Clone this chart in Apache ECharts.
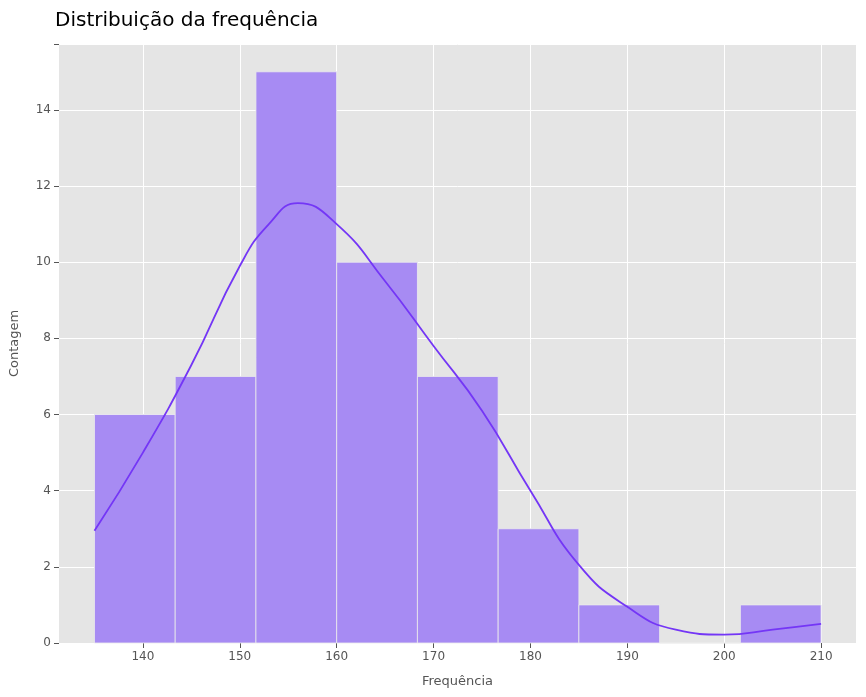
<!DOCTYPE html>
<html><head><meta charset="utf-8">
<script src="https://cdn.jsdelivr.net/npm/echarts@6/dist/echarts.min.js"></script>
<style>html,body{margin:0;background:#fff}#c{width:866px;height:697px}</style>
</head><body><div id="c"></div>
<script>
const binStart = 135, binEnd = 210;
const counts = [6, 7, 15, 10, 7, 3, 1, 0, 1];
const kdeX = [135,140,145,150,153,156,160,165,170,175,180,185,190,195,200,205,210];
const kdeY = [2.95,5.0,7.3,9.9,11.0,11.55,11.0,9.5,7.8,6.1,4.0,2.05,0.95,0.35,0.22,0.35,0.5];
const xTicks = [140,150,160,170,180,190,200,210];
const w = (binEnd - binStart) / counts.length;
const bars = counts.map((c, i) => [binStart + i * w, binStart + (i + 1) * w, c]);
const chart = echarts.init(document.getElementById('c'));
chart.setOption({
  backgroundColor: '#fff',
  animation: false,
  title: {text: 'Distribuição da frequência', left: 50, top: 6,
    textStyle: {fontSize: 20, fontWeight: 'normal', color: '#000', fontFamily: 'DejaVu Sans'}},
  grid: {left: 58, right: 10, top: 44, bottom: 54, show: true, backgroundColor: '#e5e5e5', borderWidth: 0},
  xAxis: {type: 'value', min: 131.34, max: 213.6, interval: 10,
    name: 'Frequência', nameLocation: 'middle', nameGap: 32,
    nameTextStyle: {color: '#555', fontSize: 13, fontFamily: 'DejaVu Sans'},
    axisLine: {show: false}, axisTick: {show: true, lineStyle: {color: '#555'}},
    axisLabel: {color: '#555', fontSize: 12, fontFamily: 'DejaVu Sans',
      customValues: xTicks},
    axisTick: {customValues: xTicks, lineStyle: {color: '#555'}},
    splitLine: {show: true, lineStyle: {color: '#fff', width: 1}}},
  yAxis: {type: 'value', min: 0, max: 15.73, interval: 2,
    name: 'Contagem', nameLocation: 'middle', nameGap: 38,
    nameTextStyle: {color: '#555', fontSize: 13, fontFamily: 'DejaVu Sans'},
    axisLine: {show: false}, axisTick: {show: true, lineStyle: {color: '#555'}},
    axisLabel: {color: '#555', fontSize: 12, fontFamily: 'DejaVu Sans',
      formatter: v => (v % 2 === 0 ? v : '')},
    splitLine: {show: true, lineStyle: {color: '#fff', width: 1}}},
  series: [
    {type: 'custom', data: bars, encode: {x: [0, 1], y: 2},
      renderItem: (params, api) => {
        const p0 = api.coord([api.value(0), api.value(2)]);
        const p1 = api.coord([api.value(1), 0]);
        return {type: 'rect', shape: {x: p0[0], y: p0[1], width: p1[0] - p0[0], height: p1[1] - p0[1]},
          style: {fill: '#a78bf3', stroke: '#ececec', lineWidth: 0.8}};
      }},
    {type: 'line', data: kdeX.map((x, i) => [x, kdeY[i]]), smooth: 0.5, showSymbol: false,
      lineStyle: {color: '#7436f6', width: 1.8}}
  ]
});
</script></body></html>
